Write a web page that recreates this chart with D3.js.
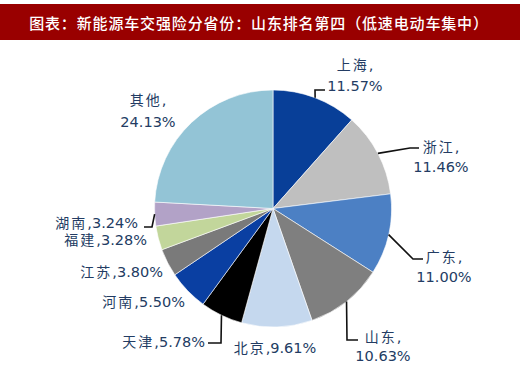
<!DOCTYPE html>
<html><head><meta charset="utf-8">
<script src="https://cdn.jsdelivr.net/npm/d3@7"></script>
<style>html,body{margin:0;padding:0;background:#fff;}svg{display:block;}</style>
</head><body>
<svg id="chart" width="520" height="370"></svg>
<script>
const titleText = "图表：新能源车交强险分省份：山东排名第四（低速电动车集中）";
const provinces = ["上海","浙江","广东","山东","北京","天津","河南","江苏","福建","湖南","其他"];
const shares = [11.57,11.46,11.00,10.63,9.61,5.78,5.50,3.80,3.28,3.24,24.13];
const sliceColors = ["#083F98","#BFBFBF","#4C80C4","#7F7F7F","#C5D8EE","#000000","#0A3FA2","#7A7A7A","#C2D69B","#B2A2C7","#93C4D6"];

// label layout (positions only)
const labelLayout = {
  "上海": {x:355, ys:[65,86], anchor:"middle", two:true, leader:[[315,90],[325,90]]},
  "浙江": {x:441, ys:[147,167], anchor:"middle", two:true, leader:[[410,148],[419,148]]},
  "广东": {x:444, ys:[257,277], anchor:"middle", two:true, leader:[[413,259],[423,259]]},
  "山东": {x:383, ys:[337,356], anchor:"middle", two:true, leader:[[347,340],[358,340]]},
  "北京": {x:275, ys:[348], anchor:"middle", two:false},
  "天津": {x:205, ys:[342], anchor:"end", two:false, leader:[[221,343],[208,343]]},
  "河南": {x:185, ys:[302], anchor:"end", two:false},
  "江苏": {x:163, ys:[272], anchor:"end", two:false},
  "福建": {x:147, ys:[240], anchor:"end", two:false},
  "湖南": {x:138, ys:[223], anchor:"end", two:false, leader:[[152,227],[144,227]]},
  "其他": {x:148, ys:[100,122], anchor:"middle", two:true}
};

const svg = d3.select("#chart");
svg.append("rect").attr("x",0).attr("y",0).attr("width",520).attr("height",370).attr("fill","#fff");
svg.append("rect").attr("x",0).attr("y",4).attr("width",520).attr("height",36).attr("fill","#990000");
svg.append("text").attr("x",259).attr("y",22).attr("text-anchor","middle").attr("dominant-baseline","central")
  .attr("fill","#fff").attr("font-family","'Noto Sans CJK SC'").attr("font-size",15).attr("font-weight",500)
  .attr("letter-spacing",0.85).text(titleText);

const cx = 273, cy = 208.5, R = 118.5;
const data = provinces.map((p,i)=>({name:p, value:shares[i], color:sliceColors[i]}));
const pie = d3.pie().value(d=>d.value).sort(null);
const arcs = pie(data);
const arc = d3.arc().innerRadius(0).outerRadius(R);
const g = svg.append("g").attr("transform",`translate(${cx},${cy})`);
g.selectAll("path").data(arcs).join("path").attr("d",arc).attr("fill",d=>d.data.color)
  .attr("stroke","#fff").attr("stroke-width",0.6);

const labelColor = "#233C63";
const fontFam = "'DejaVu Sans','Noto Sans CJK SC'";
function addText(x,y,anchor){
  return svg.append("text").attr("x",x).attr("y",y).attr("text-anchor",anchor).attr("dominant-baseline","central")
    .attr("fill",labelColor).attr("font-family",fontFam).attr("font-size",14.5);
}
arcs.forEach(a=>{
  const L = labelLayout[a.data.name];
  const pct = a.data.value.toFixed(2)+"%";
  if (L.leader){
    const mid = (a.startAngle+a.endAngle)/2;
    const sx = cx + R*Math.sin(mid), sy = cy - R*Math.cos(mid);
    const pts = [[sx,sy]].concat(L.leader);
    svg.append("path").attr("d", d3.line()(pts)).attr("fill","none").attr("stroke","#111").attr("stroke-width",1.6);
  }
  if (L.two){
    const t1 = addText(L.x,L.ys[0],L.anchor);
    t1.append("tspan").attr("font-size",14).attr("letter-spacing",2).text(a.data.name);
    t1.append("tspan").text(",");
    addText(L.x,L.ys[1],L.anchor).text(pct);
  } else {
    const t = addText(L.x,L.ys[0],L.anchor);
    t.append("tspan").attr("font-size",14).attr("letter-spacing",2).text(a.data.name);
    t.append("tspan").text(","+pct);
  }
});
</script>
</body></html>
